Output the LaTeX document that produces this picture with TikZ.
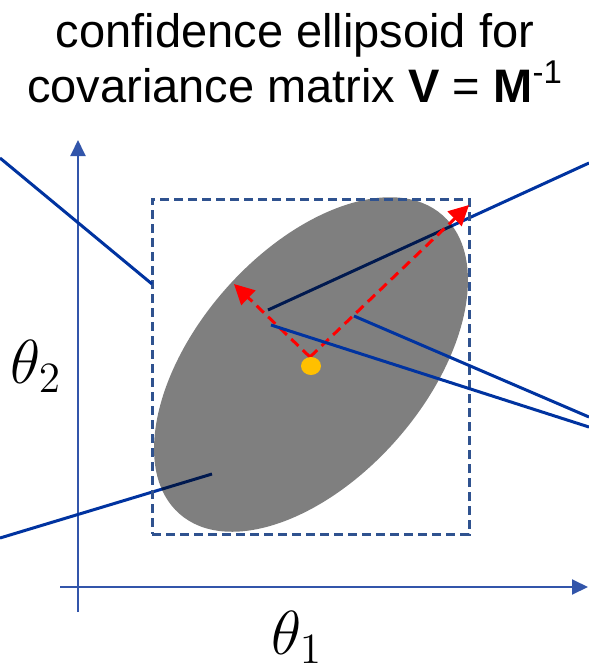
\documentclass[tikz,border=0pt]{standalone}
\usepackage[no-math]{fontspec}
\newfontfamily\arialf{Liberation Sans}
\usetikzlibrary{arrows.meta,shapes.geometric}
\definecolor{lineblue}{RGB}{0,51,160}
\definecolor{axisblue}{RGB}{50,85,170}
\definecolor{boxblue}{RGB}{47,82,143}
\definecolor{dotyellow}{RGB}{255,192,0}
\tikzset{
  callout/.style={draw=lineblue, line width=1.5pt},
  axisline/.style={draw=axisblue, line width=1pt, -{Triangle[length=8pt,width=7.5pt]}},
  redarrow/.style={draw=red, line width=1.5pt, dash pattern=on 5pt off 3pt, -{Triangle[length=10pt,width=10pt]}},
  titletext/.style={font=\arialf\fontsize{23.5}{28}\selectfont, anchor=base, inner sep=0pt},
  thetalabel/.style={font=\fontsize{20.74}{25}\selectfont, scale=1.5, anchor=base, inner sep=0pt}
}
\begin{document}
\begin{tikzpicture}[x=0.5pt,y=-0.5pt]
\useasboundingbox (0,0) rectangle (589,671);
% title
\node[titletext] (t1) at (295,47) {confidence ellipsoid for};
\node[titletext] (t2) at (295,102) {covariance matrix {\bfseries V} = {\bfseries M}\textsuperscript{-1}};
% axes
\coordinate (yb) at (78,612);
\coordinate (yt) at (78,140);
\coordinate (xl) at (60,587);
\coordinate (xr) at (588,587);
\draw[axisline] (yb) -- (yt);
\draw[axisline] (xl) -- (xr);
\node[thetalabel] (th1) at (297,654) {$\theta_1$};
\node[thetalabel] (th2) at (36,383) {$\theta_2$};
% callouts under the ellipse
\coordinate (c2a) at (268,310);
\coordinate (c2b) at (589,163);
\coordinate (c5a) at (212,474);
\coordinate (c5b) at (0,538);
\draw[callout] (c2a) -- (c2b);
\draw[callout] (c5a) -- (c5b);
% ellipse
\node[ellipse, fill=black, fill opacity=0.5, inner sep=0pt, minimum width=199pt, minimum height=114pt, rotate=48.6] (ell) at (311,364.5) {};
% box
\node[draw=boxblue, line width=1.5pt, dash pattern=on 4.5pt off 2.5pt, minimum width=158.5pt, minimum height=167.5pt, inner sep=0pt] (box) at (310.5,366.5) {};
% upper-left callout
\coordinate (c1a) at (0,158);
\coordinate (c1b) at (152,284);
\draw[callout] (c1a) -- (c1b);
% red axes arrows
\coordinate (v) at (310,357);
\coordinate (vmaj) at (469,205);
\coordinate (vmin) at (234,284);
\draw[redarrow] (v) -- (vmaj);
\draw[redarrow] (v) -- (vmin);
% centre dot
\node[ellipse, fill=dotyellow, inner sep=0pt, minimum width=10pt, minimum height=9pt] (dot) at (311,366) {};
% right callouts
\coordinate (c3a) at (271,325);
\coordinate (c3b) at (589,427);
\coordinate (c4a) at (354,316);
\coordinate (c4b) at (589,417);
\draw[callout] (c3a) -- (c3b);
\draw[callout] (c4a) -- (c4b);
\end{tikzpicture}
\end{document}
